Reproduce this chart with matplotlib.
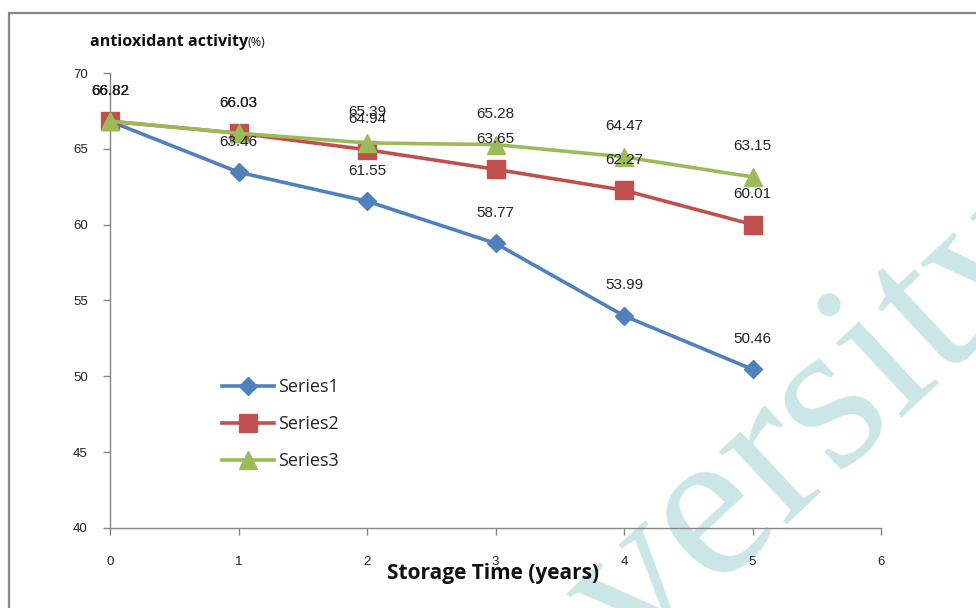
import matplotlib
matplotlib.use("Agg")
import matplotlib.pyplot as plt
from matplotlib.patches import Rectangle

# ---- data ----
years = [0, 1, 2, 3, 4, 5]
series1 = [66.82, 63.46, 61.55, 58.77, 53.99, 50.46]
series2 = [66.82, 66.03, 64.94, 63.65, 62.27, 60.01]
series3 = [66.82, 66.03, 65.39, 65.28, 64.47, 63.15]
series_names = ["Series1", "Series2", "Series3"]
x_ticks = [0, 1, 2, 3, 4, 5, 6]
y_ticks = [40, 45, 50, 55, 60, 65, 70]

colors = ["#4F81BD", "#C0504D", "#9BBB59"]
markers = ["D", "s", "^"]
msizes = [9.5, 12.5, 12.5]

W, H = 976, 608
fig = plt.figure(figsize=(W / 100, H / 100), dpi=100)
fig.patch.set_facecolor("white")

# watermark (behind the chart)
fig.text(634 / W, 1 - 666 / H, "versity", fontsize=156, family="Liberation Serif",
         color="#CBE6E6", rotation=43, rotation_mode="anchor",
         ha="left", va="baseline", zorder=-1)

# outer frame (top and left visible)
fig.add_artist(Rectangle((9 / W, -0.05), 1.2, (H - 13) / H + 0.05,
                         transform=fig.transFigure, fill=False,
                         edgecolor="#888888", linewidth=1.6, zorder=0))

ax = fig.add_axes([110 / W, 80 / H, 771 / W, 455 / H])
ax.patch.set_alpha(0)
ax.set_xlim(0, 6)
ax.set_ylim(40, 70)
for s in ["top", "right"]:
    ax.spines[s].set_visible(False)
for s in ["left", "bottom"]:
    ax.spines[s].set_color("#868686")
    ax.spines[s].set_linewidth(1.0)

ax.set_xticks(x_ticks)
ax.set_yticks(y_ticks)
ax.tick_params(axis="both", colors="#868686", length=5, width=1.0,
               labelcolor="#222222", labelsize=9.5)
ax.tick_params(axis="x", pad=15)
ax.tick_params(axis="y", pad=11)
for lab in ax.get_xticklabels() + ax.get_yticklabels():
    lab.set_fontfamily("Liberation Sans")

all_series = [series1, series2, series3]
handles = []
for vals, c, m, ms, name in zip(all_series, colors, markers, msizes, series_names):
    ln, = ax.plot(years, vals, color=c, linewidth=2.6, marker=m,
                  markersize=ms, markerfacecolor=c, markeredgecolor=c,
                  label=name, clip_on=False, zorder=3)
    handles.append(ln)

# data labels
for vals in all_series:
    for xv, yv in zip(years, vals):
        ax.annotate(f"{yv:.2f}", (xv, yv), xytext=(0, 22),
                    textcoords="offset points", ha="center", va="center",
                    fontsize=11, color="#222222", family="Liberation Sans",
                    zorder=5)

leg = ax.legend(handles=handles, loc="center left",
                bbox_to_anchor=(0.1453, 0.2286), frameon=False,
                fontsize=13, labelspacing=1.05, handlelength=2.9,
                handletextpad=0.2, borderpad=0, borderaxespad=0)
for t in leg.get_texts():
    t.set_fontfamily("Open Sans")
    t.set_color("#222222")

# axis titles
fig.text(90 / W, 1 - 42 / H, "antioxidant activity", fontsize=11.6,
         fontweight="bold", family="Open Sans", ha="left", va="center",
         color="#111111")
fig.text(248 / W, 1 - 43 / H, "(%)", fontsize=9, family="Open Sans",
         ha="left", va="center", color="#111111")
fig.text(493 / W, 1 - 573 / H, "Storage Time (years)", fontsize=15,
         fontweight="bold", family="Open Sans", ha="center", va="center",
         color="#111111")

fig.savefig("out.png", dpi=100)
